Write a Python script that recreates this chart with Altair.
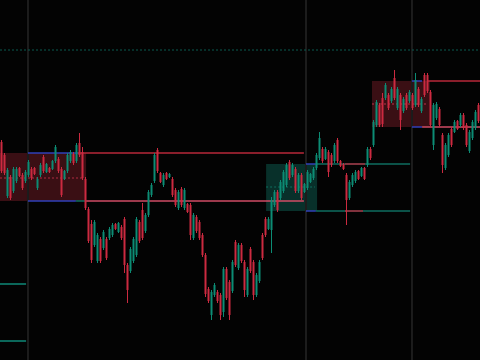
import altair as alt
import pandas as pd

# ---- candle data (price units) ----
opens = [218,205,164,183,169,179,192,185,179,185,
         191,192,172,185,203,188,192,191,199,201,
         191,181,189,199,206,199,217,208,181,151,
         136,115,99,121,112,121,122,125,136,128,
         133,141,95,89,99,105,138,150,129,145,
         165,179,210,187,175,187,183,181,170,152,
         171,152,156,155,122,143,138,125,105,71,
         45,65,68,65,48,91,78,69,118,92,
         115,98,65,111,98,65,79,125,141,131,
         130,155,168,162,169,175,198,185,191,169,
         185,168,172,178,182,192,202,211,201,208,
         205,199,220,199,196,185,162,175,179,189,
         184,192,195,211,215,235,255,262,262,265,
         259,282,252,265,249,265,259,265,255,271,
         249,285,285,268,215,242,251,225,192,205,
         231,228,239,235,245,235,209,222,232,255]
closes = [189,187,190,162,191,191,184,172,188,198,
          182,186,181,195,189,196,188,199,213,189,
          165,189,205,208,197,215,205,182,152,119,
          100,138,125,99,128,102,131,135,131,137,
          122,95,70,111,121,141,119,122,145,168,
          175,205,189,178,185,181,186,165,155,168,
          155,170,148,125,145,129,122,105,66,59,
          68,75,59,45,91,62,45,98,95,115,
          99,70,91,89,65,85,98,102,125,141,
          160,168,150,178,188,195,182,195,169,185,
          162,176,188,186,191,205,222,199,211,188,
          195,215,199,194,191,160,178,185,188,181,
          192,181,211,202,238,258,235,236,275,252,
          271,262,271,240,261,252,268,252,280,255,
          261,265,269,235,255,256,235,195,215,225,
          215,238,231,245,232,215,228,238,248,239]
highs = [220,207,192,185,193,193,193,187,190,200,
         193,193,183,197,205,197,193,200,215,203,
         193,190,207,210,208,217,227,213,183,153,
         140,140,127,123,130,123,133,137,137,138,
         135,143,97,113,123,143,140,157,147,170,
         177,207,212,188,187,188,187,183,172,170,
         173,172,157,157,147,145,140,127,107,73,
         70,77,70,67,93,93,80,100,120,117,
         117,100,93,113,100,87,100,127,143,143,
         163,170,170,180,190,197,200,197,193,187,
         187,177,190,187,193,207,228,213,213,210,
         207,217,222,200,197,187,180,187,190,190,
         193,193,213,213,240,260,257,267,277,267,
         273,290,273,267,263,267,270,267,287,273,
         263,287,287,270,257,258,253,227,217,227,
         233,240,240,247,247,237,230,240,250,257]
lows = [187,185,162,160,167,177,183,170,177,183,
        180,185,170,183,187,187,187,190,197,187,
        163,180,187,197,195,197,203,180,150,117,
        97,113,97,97,110,100,120,123,130,127,
        120,87,57,87,97,103,117,120,127,143,
        163,177,187,177,173,180,182,163,153,150,
        153,150,147,120,120,127,120,103,63,57,
        40,63,57,40,43,60,40,67,93,90,
        97,63,63,87,60,63,77,100,123,130,
        107,153,148,160,167,173,180,183,167,167,
        160,167,170,177,180,190,200,197,200,183,
        193,197,197,193,190,135,160,173,177,180,
        183,180,193,200,213,233,233,233,260,250,
        257,260,250,230,247,250,257,250,253,253,
        247,263,267,233,210,240,233,187,190,203,
        213,227,230,233,230,213,207,220,230,237]

# ---- zones ----
zone_start = [-0.5, 88.2, 123.5]
zone_end = [28.2, 105.2, 142.8]
zone_top = [207, 196, 279]
zone_bottom = [159, 149, 233]
zone_fill = ["#3a0f14", "#08302a", "#3a0f14"]
zone_mid = [182, 173, 256]
zone_mid_end = [27.5, 104.5, 142.0]
zone_mid_color = ["#b02a40", "#0d6e5e", "#c03048"]

# ---- level segments ----
level_start = [8.8, 25.5, 8.8, 24.8, 28.2, 101.5, 104.8, 114.5, 101.5, 104.8, 114.5,
               136.8, 141.8, 136.8, 140.2, -0.5, -0.5]
level_end = [25.5, 100.8, 24.8, 28.2, 100.8, 104.8, 136.2, 121.2, 104.8, 136.2, 120.5,
             140.2, 159.5, 140.2, 159.5, 8.2, 8.2]
level_price = [207, 207, 159, 159, 159, 196, 196, 196, 149, 149, 149,
               279, 279, 233, 233, 76, 19]
level_color = ["#3040b8", "#b8283a", "#3040b8", "#0d6e5e", "#d04c66", "#3040b8", "#0f6e60",
               "#a8283a", "#3040b8", "#0f6e60", "#a8283a",
               "#3040b8", "#b8283a", "#3040b8", "#d04c66", "#0f8a78", "#0f8a78"]

session_t = [8.83, 101.5, 136.83]
dotted_price = [310]

n = len(opens)
candles = pd.DataFrame({
    "t": list(range(n)),
    "open": opens, "close": closes, "high": highs, "low": lows,
})
candles["col"] = ["#0c8c74" if c >= o else "#cc2a40" for o, c in zip(opens, closes)]

zones = pd.DataFrame({"x0": zone_start, "x1": zone_end, "top": zone_top,
                      "bottom": zone_bottom, "fill": zone_fill})
mids = pd.DataFrame({"x0": zone_start, "x1": zone_mid_end, "p": zone_mid, "col": zone_mid_color})
levels = pd.DataFrame({"x0": level_start, "x1": level_end, "p": level_price, "col": level_color})
sessions = pd.DataFrame({"t": session_t})
dotted = pd.DataFrame({"p": dotted_price, "x0": [-0.5], "x1": [159.5]})

xs = alt.Scale(domain=[-0.5, 159.5], nice=False, zero=False, padding=0)
ys = alt.Scale(domain=[0, 360], nice=False, zero=False, padding=0)

zone_layer = alt.Chart(zones).mark_rect().encode(
    x=alt.X("x0:Q", scale=xs, axis=None), x2="x1:Q",
    y=alt.Y("top:Q", scale=ys, axis=None), y2="bottom:Q",
    color=alt.Color("fill:N", scale=None))

session_layer = alt.Chart(sessions).mark_rule(color="#1c1c1c", strokeWidth=2).encode(
    x=alt.X("t:Q", scale=xs, axis=None))

level_layer = alt.Chart(levels).mark_rule(strokeWidth=1.5).encode(
    x=alt.X("x0:Q", scale=xs, axis=None), x2="x1:Q",
    y=alt.Y("p:Q", scale=ys, axis=None),
    color=alt.Color("col:N", scale=None))

mid_layer = alt.Chart(mids).mark_rule(strokeWidth=1, strokeDash=[2, 2]).encode(
    x=alt.X("x0:Q", scale=xs, axis=None), x2="x1:Q",
    y=alt.Y("p:Q", scale=ys, axis=None),
    color=alt.Color("col:N", scale=None))

dot_layer = alt.Chart(dotted).mark_rule(strokeWidth=1, strokeDash=[2, 2], color="#0b5a50").encode(
    x=alt.X("x0:Q", scale=xs, axis=None), x2="x1:Q",
    y=alt.Y("p:Q", scale=ys, axis=None))

wick_layer = alt.Chart(candles).mark_rule(strokeWidth=1).encode(
    x=alt.X("t:Q", scale=xs, axis=None),
    y=alt.Y("low:Q", scale=ys, axis=None), y2="high:Q",
    color=alt.Color("col:N", scale=None))

body_layer = alt.Chart(candles).mark_bar(size=2).encode(
    x=alt.X("t:Q", scale=xs, axis=None),
    y=alt.Y("open:Q", scale=ys, axis=None), y2="close:Q",
    color=alt.Color("col:N", scale=None))

chart = alt.layer(zone_layer, session_layer, level_layer, mid_layer, dot_layer,
                  wick_layer, body_layer).properties(
    width=480, height=360, padding=0, background="#030303",
    autosize=alt.AutoSizeParams(type="none")
).configure_view(stroke=None).configure_scale(continuousPadding=0)

chart.save("out.html", embed_options={"renderer": "svg", "actions": False})
